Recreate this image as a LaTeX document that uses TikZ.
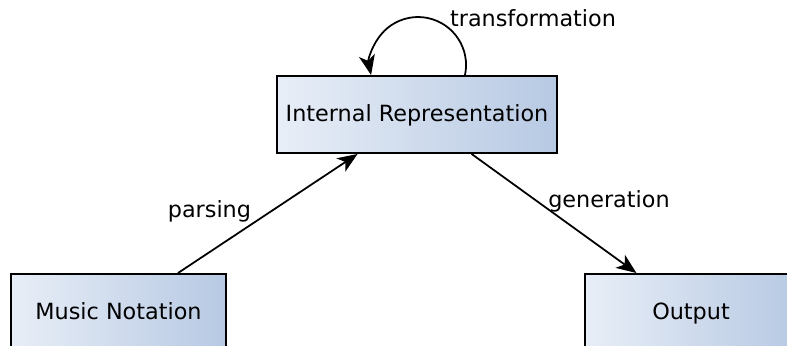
\documentclass[tikz,border=0pt]{standalone}
\usepackage{fontspec}
\setmainfont{DejaVu Sans}
\usetikzlibrary{arrows.meta}
\definecolor{boxleft}{RGB}{232,238,247}
\definecolor{boxright}{RGB}{183,201,227}
\begin{document}
\begin{tikzpicture}[
				stagebox/.style={rectangle, draw=black, line width=1.1pt, left color=boxleft, right color=boxright, minimum height=1.54cm, text height=0.76em, text depth=0pt, font=\fontsize{12.7}{15}\selectfont},
				flow/.style={line width=1pt, -{Stealth[length=4mm, width=3.2mm, inset=1.1mm]}},
				flowlabel/.style={font=\fontsize{12.7}{15}\selectfont},
				]
				\clip (0,0) rectangle (15.74,6.9);
				%Nodes
				\node[stagebox, minimum width=5.6cm]      (ir) 	at 	(8.34,4.61)     {Internal Representation};
				\node[stagebox, minimum width=4.3cm]      (mn) 	at 	(2.37,0.65)     {Music Notation};
				\node[stagebox, minimum width=4.24cm]     (out) 	at 	(13.82,0.65)    {Output};
				\node[flowlabel]  (tlab) at ([xshift=2.32cm, yshift=1.14cm]ir.north) {transformation};
				
				%Lines
				\draw[flow] (mn) -- node[flowlabel, midway, left, xshift=-2mm, yshift=0.5mm] {parsing} (ir);
				\draw[flow] (ir) -- node[flowlabel, midway, above right, xshift=-2.5mm, yshift=-1mm] {generation} (out);
				\draw[flow] ([xshift=0.96cm]ir.north) arc[start angle=-12, end angle=192, radius=0.96cm];
			\end{tikzpicture}
\end{document}
